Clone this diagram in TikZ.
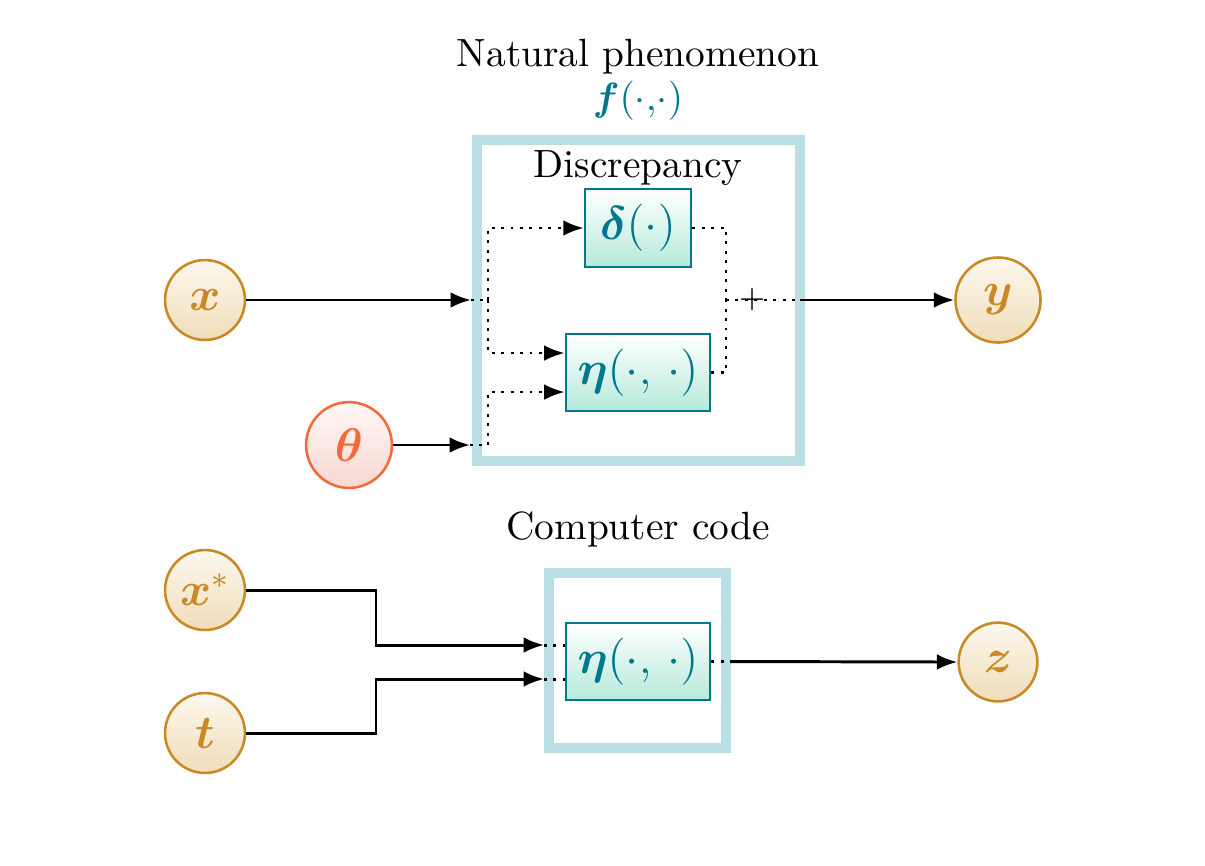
\documentclass[tikz,border=0pt]{standalone}
\usepackage{amsmath,bm}
\usetikzlibrary{arrows.meta,calc}
\definecolor{goldd}{HTML}{C98A26}
\definecolor{goldtop}{HTML}{FCF8EE}
\definecolor{goldbot}{HTML}{F0DDB9}
\definecolor{redd}{HTML}{F26A3C}
\definecolor{redtop}{HTML}{FFF7F5}
\definecolor{redbot}{HTML}{F9D8D2}
\definecolor{teald}{HTML}{00788C}
\definecolor{tealbot}{HTML}{B6E9DA}
\definecolor{frameblue}{HTML}{B9DFE5}
\tikzset{
  x=0.254pt, y=-0.254pt,
  varnode/.style={circle, draw=goldd, line width=0.65pt, shading=axis, top color=goldtop, bottom color=goldbot, text=goldd, minimum size=20.3pt, inner sep=0pt, font=\large},
  parnode/.style={circle, draw=redd, line width=0.65pt, shading=axis, top color=redtop, bottom color=redbot, text=redd, minimum size=21.8pt, inner sep=0pt, font=\large},
  funbox/.style={rectangle, draw=teald, line width=0.65pt, shading=axis, top color=white, bottom color=tealbot, text=teald, inner sep=0pt, font=\large},
  framebox/.style={rectangle, draw=frameblue, line width=2.5pt, inner sep=0pt},
  tip/.tip={Latex[length=5.2pt,width=4pt]},
  arr/.style={line width=0.75pt, -tip},
  ln/.style={line width=0.75pt},
  dln/.style={line width=0.75pt, dash pattern=on 0.75pt off 1.65pt},
  darr/.style={dln, -tip},
  lbl/.style={inner sep=0pt, font=\normalsize}
}
\begin{document}
\begin{tikzpicture}
\useasboundingbox (0,0) rectangle (1205,865);
% frames
\node[framebox, minimum width=82pt, minimum height=81.5pt] (nat) at (638.5,300.5) {};
\node[framebox, minimum width=45pt, minimum height=44.5pt] (code) at (637.5,660.5) {};
% labels
\node[lbl] (tnat) at (638,57) {Natural phenomenon};
\node[lbl, text=teald] (tf) at (638,101) {$\bm{f}(\cdot{,}\cdot)$};
\node[lbl] (tdis) at (638,168) {Discrepancy};
\node[lbl] (tcode) at (638,529) {Computer code};
% function boxes
\node[funbox, minimum width=26.9pt, minimum height=19.8pt] (delta) at (638,228) {$\bm{\delta}(\cdot)$};
\node[funbox, minimum width=36.6pt, minimum height=19.6pt] (eta) at (638,372.5) {$\bm{\eta}(\cdot,\, \cdot)$};
\node[funbox, minimum width=36.6pt, minimum height=19.6pt] (eta2) at (638,661.5) {$\bm{\eta}(\cdot,\, \cdot)$};
% variables
\node[varnode] (x) at (205,300) {$\bm{x}$};
\node[parnode] (theta) at (349,445) {$\bm{\theta}$};
\node[varnode, minimum size=21.6pt] (y) at (998,300) {$\bm{y}$};
\node[varnode] (xs) at (205,590) {$\bm{x}^{*}$};
\node[varnode] (t) at (205,733) {$\bm{t}$};
\node[varnode, minimum size=20pt] (z) at (998,662) {$\bm{z}$};
% coordinates
\coordinate (xin) at (471,300);
\coordinate (jx) at (488,300);
\coordinate (thin) at (470,445);
\coordinate (jt) at (488,445);
\coordinate (jo) at (726,300);
\coordinate (fo) at (800,300);
\coordinate (xsin) at (544,645);
\coordinate (tin) at (544,679);
\coordinate (eo) at (730,661.5);
% top connections
\draw[arr] (x.east) -- (xin);
\draw[dln] (xin) -- (jx);
\draw[darr] (jx) |- (delta.west);
\draw[darr] (jx) |- ($(eta.west)+(0,-19.5)$);
\draw[arr] (theta.east) -- (thin);
\draw[dln] (thin) -- (jt);
\draw[darr] (jt) |- ($(eta.west)+(0,19.5)$);
\draw[dln] (delta.east) -| (jo);
\draw[dln] (eta.east) -| (jo);
\draw[dln] (jo) -- (fo);
\node[inner sep=0pt, font=\footnotesize] (plus) at (752,300) {$+$};
\draw[arr] (fo) -- (y.west);
% bottom connections
\draw[arr] (xs.east) -| (376,645) -- (xsin);
\draw[dln] (xsin) -- (xsin -| eta2.west);
\draw[arr] (t.east) -| (376,679) -- (tin);
\draw[dln] (tin) -- (tin -| eta2.west);
\draw[dln] (eta2.east) -- (eo);
\draw[arr] (eo) -- (z.west);
\end{tikzpicture}
\end{document}
